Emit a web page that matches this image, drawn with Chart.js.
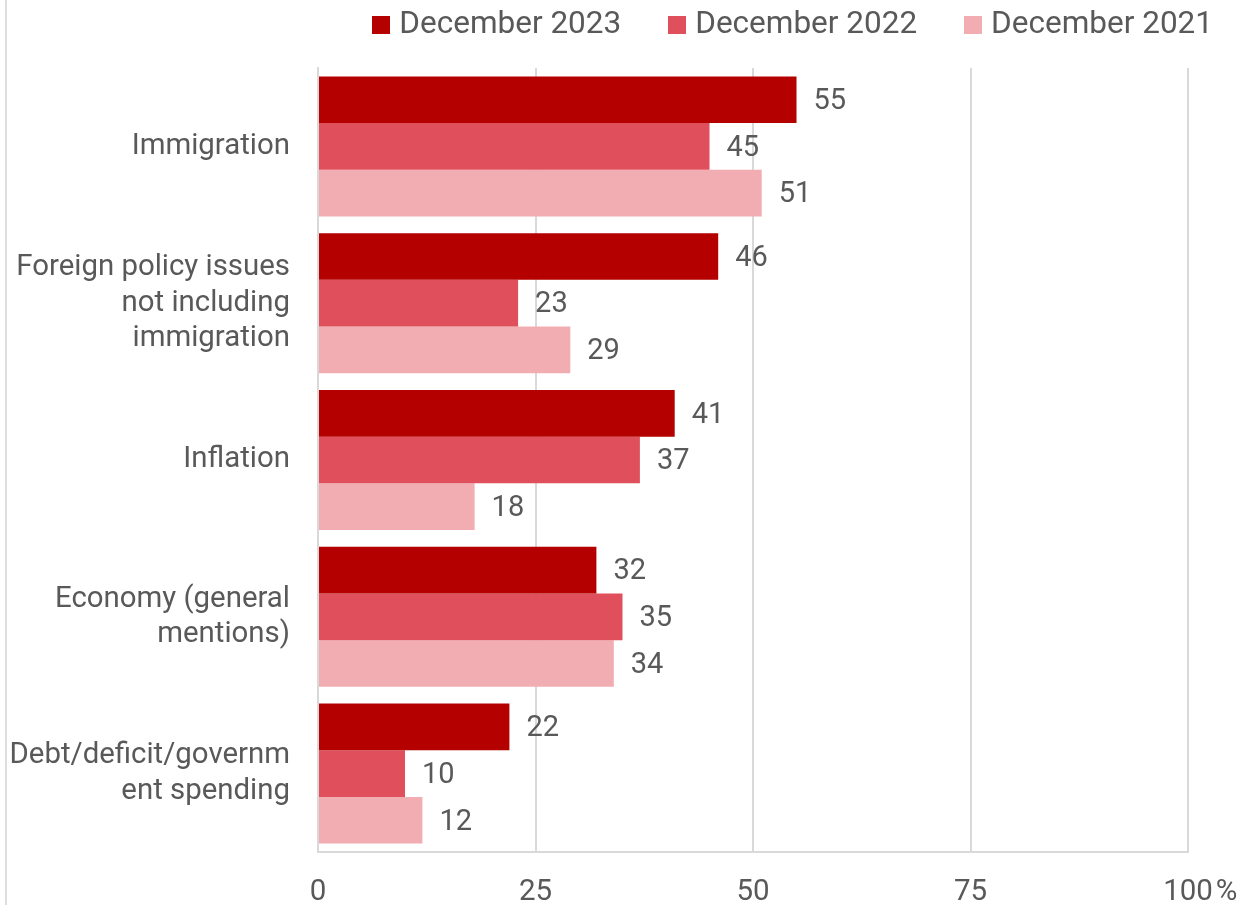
<!DOCTYPE html>
<html lang="en">
<head>
<meta charset="utf-8">
<title>Most important issues</title>
<script src="https://cdn.jsdelivr.net/npm/chart.js@4/dist/chart.umd.min.js"></script>
<style>
  html, body { margin: 0; padding: 0; background: #fff; }
  #wrap { position: relative; width: 1246px; height: 905px; overflow: hidden; }
  #frame { position: absolute; left: 5px; top: 0; width: 2px; height: 905px; background: #dedede; }
  #issuesChart { position: absolute; left: 0; top: 0; }
  #legend {
    position: absolute; top: 5px; right: 33px;
    display: flex; gap: 47px;
    font: 31.5px Roboto, sans-serif; line-height: 36px; color: #595959;
  }
  .item { display: flex; align-items: flex-start; white-space: nowrap; }
  .swatch { width: 18px; height: 18px; margin-top: 11px; margin-right: 9px; }
</style>
</head>
<body>
<div id="wrap">
  <div id="frame"></div>
  <canvas id="issuesChart" width="1246" height="905"></canvas>
  <div id="legend"></div>
</div>
<script>
// === Datos ===
const categories = [
  'Immigration',
  ['Foreign policy issues', 'not including', 'immigration'],
  'Inflation',
  ['Economy (general', 'mentions)'],
  ['Debt/deficit/governm', 'ent spending']
];
const seriesNames = ['December 2023', 'December 2022', 'December 2021'];
const dec2023 = [55, 46, 41, 32, 22];
const dec2022 = [45, 23, 37, 35, 10];
const dec2021 = [51, 29, 18, 34, 12];
const xTicks = [0, 25, 50, 75, 100];

const colors = ['#b50000', '#e0505c', '#f2adb2'];
const textColor = '#595959';
const gridColor = '#d9d9d9';
const labelFont = { family: 'Roboto', size: 29.4 };
const tickFont = { family: 'Roboto', size: 29.5 };
const valueFont = { family: 'Roboto', size: 29 };
const tickPadding = 23;

// === Leyenda ===
const legend = document.getElementById('legend');
seriesNames.forEach((name, i) => {
  const item = document.createElement('div');
  item.className = 'item';
  const sw = document.createElement('span');
  sw.className = 'swatch';
  sw.style.background = colors[i];
  const label = document.createElement('span');
  label.textContent = name;
  item.appendChild(sw);
  item.appendChild(label);
  legend.appendChild(item);
});

// === Valores al final de cada barra ===
const barValues = {
  id: 'barValues',
  afterDatasetsDraw(chart) {
    const { ctx } = chart;
    ctx.save();
    ctx.font = `${valueFont.size}px ${valueFont.family}`;
    ctx.fillStyle = textColor;
    ctx.textAlign = 'left';
    ctx.textBaseline = 'middle';
    chart.data.datasets.forEach((ds, i) => {
      chart.getDatasetMeta(i).data.forEach((bar, j) => {
        ctx.fillText(ds.data[j], bar.x + 17, bar.y + 2);
      });
    });
    ctx.restore();
  }
};

// === Signo % junto al último tick ===
const percentSign = {
  id: 'percentSign',
  afterDraw(chart) {
    const { ctx } = chart;
    const x = chart.scales.x;
    const last = xTicks[xTicks.length - 1];
    ctx.save();
    ctx.font = `${tickFont.size}px ${tickFont.family}`;
    ctx.fillStyle = textColor;
    ctx.textAlign = 'left';
    ctx.textBaseline = 'middle';
    const px = x.getPixelForValue(last) + ctx.measureText(String(last)).width / 2 + 3;
    ctx.fillText('%', px, x.top + tickPadding + tickFont.size * 1.2 / 2);
    ctx.restore();
  }
};

// === Gráfico ===
new Chart(document.getElementById('issuesChart'), {
  type: 'bar',
  data: {
    labels: categories,
    datasets: [dec2023, dec2022, dec2021].map((data, i) => ({
      label: seriesNames[i],
      data: data,
      backgroundColor: colors[i],
      borderWidth: 0,
      barPercentage: 1,
      categoryPercentage: 0.893
    }))
  },
  options: {
    indexAxis: 'y',
    responsive: false,
    animation: false,
    layout: { padding: { top: 68, right: 58, bottom: 0, left: 0 } },
    plugins: {
      legend: { display: false },
      tooltip: { enabled: false }
    },
    scales: {
      x: {
        min: 0,
        max: 100,
        afterBuildTicks: scale => { scale.ticks = xTicks.map(v => ({ value: v })); },
        afterFit: scale => { scale.height = 53; },
        grid: { color: gridColor, lineWidth: 2, drawTicks: false },
        border: { display: true, color: gridColor, width: 2 },
        ticks: { font: tickFont, color: textColor, padding: tickPadding, maxRotation: 0 }
      },
      y: {
        afterFit: scale => { scale.width = 318; },
        grid: { display: false, drawTicks: false },
        border: { display: true, color: gridColor, width: 2 },
        ticks: { font: labelFont, color: textColor, padding: 28 }
      }
    }
  },
  plugins: [barValues, percentSign]
});
</script>
</body>
</html>
